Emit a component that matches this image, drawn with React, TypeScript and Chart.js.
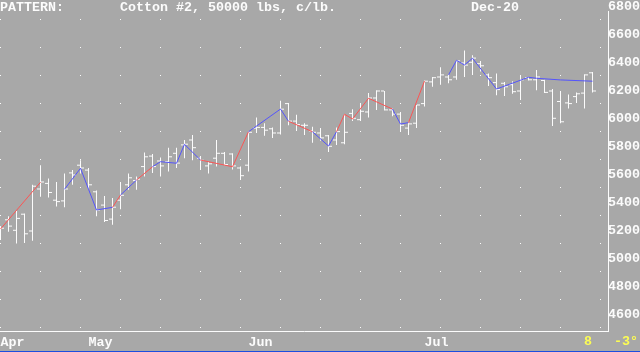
import React, { useEffect, useRef } from "react";
import { Chart, registerables } from "chart.js";

Chart.register(...registerables);

// ---- Data (Cotton #2 Dec-20, daily bars, mid-Apr .. Jul) ----
const openP = [
  5165, 5280, 5205, 5320, 5200, 5500, 5540, 5420, 5415, 5615,
  5670, 5635, 5480, 5385, 5285, 5420, 5530, 5560, 5660, 5735,
  5700, 5695, 5755, 5815, 5850, 5720, 5665, 5720, 5755, 5750,
  5650, 5670, 5935, 5940, 5930, 5900, 6110, 5985, 5955, 5915,
  5900, 5880, 5850, 5830, 6040, 5995, 6050, 6150, 6200, 6065,
  6035, 5935, 5970, 6110, 6265, 6300, 6300, 6300, 6400, 6405,
  6395, 6315, 6260, 6255, 6245, 6200, 6295, 6280, 6275, 6200,
  6125, 6115, 6160, 6185, 6330,
];
const highP = [
  5235, 5305, 5345, 5325, 5530, 5670, 5575, 5550, 5610, 5635,
  5705, 5650, 5490, 5450, 5435, 5550, 5610, 5590, 5760, 5750,
  5725, 5795, 5795, 5850, 5885, 5735, 5695, 5850, 5765, 5755,
  5660, 5910, 6010, 5970, 5940, 6130, 6115, 6030, 5970, 5945,
  5935, 5885, 5940, 6035, 6070, 6110, 6185, 6205, 6200, 6075,
  6050, 5980, 6100, 6275, 6300, 6370, 6320, 6420, 6490, 6455,
  6415, 6325, 6325, 6265, 6270, 6310, 6300, 6350, 6280, 6215,
  6200, 6175, 6190, 6320, 6335,
];
const lowP = [
  5135, 5195, 5110, 5115, 5130, 5445, 5440, 5375, 5370, 5530,
  5610, 5495, 5305, 5265, 5245, 5355, 5495, 5495, 5590, 5615,
  5590, 5625, 5650, 5720, 5705, 5635, 5610, 5660, 5670, 5640,
  5565, 5625, 5900, 5880, 5865, 5890, 5955, 5915, 5885, 5830,
  5845, 5765, 5815, 5820, 5985, 5985, 6010, 6065, 6060, 6020,
  5910, 5885, 5935, 6090, 6230, 6245, 6255, 6280, 6300, 6315,
  6340, 6235, 6170, 6165, 6180, 6135, 6275, 6205, 6185, 5950,
  5970, 6075, 6115, 6075, 6190,
];
const closeP = [
  5220, 5235, 5290, 5180, 5520, 5550, 5475, 5410, 5500, 5600,
  5650, 5530, 5350, 5275, 5370, 5455, 5580, 5570, 5730, 5660,
  5665, 5730, 5685, 5820, 5795, 5705, 5680, 5755, 5675, 5665,
  5595, 5905, 5940, 5920, 5900, 6070, 5985, 5960, 5955, 5905,
  5865, 5805, 5910, 5905, 6005, 6055, 6150, 6200, 6065, 6035,
  5955, 5965, 6100, 6270, 6295, 6315, 6280, 6415, 6385, 6435,
  6380, 6295, 6210, 6230, 6195, 6280, 6280, 6300, 6190, 6005,
  5980, 6110, 6180, 6315, 6200,
];

// Pattern line: vertices (bar index, price); null = break in the line
const patternBar = [
  0, 5, 6, 8, 10, 12, 14, 15, 17, 19, 20, 22, 23, 25, 29, 31, 35, 36, 39,
  41, 42, 43, 44, 46, 49, 50, 51, 53, 54, 56, 57, 58, 59, 62, 66, 67, 70, 74,
];
const patternVal: (number | null)[] = [
  5214, 5548, null, 5498, 5648, 5350, 5369, 5457, 5564, 5659, 5695, 5684, 5819,
  5707, 5659, 5909, 6071, 5984, 5909, 5807, 5909, 6034, 6000, 6148, 6071, 5964,
  5974, 6271, null, 6314, 6419, 6386, 6434, 6214, 6298, 6291, 6279, 6270,
];
// colour of the segment that starts at each vertex: r = red, b = blue
const patternColor = [
  "r", "-", "-", "b", "b", "b", "r", "b", "r", "b", "b", "b", "b", "r", "r",
  "b", "b", "r", "b", "b", "r", "r", "r", "r", "b", "b", "r", "-", "-", "b",
  "b", "b", "b", "b", "b", "b", "b", "-",
];

const monthLabels = ["Apr", "May", "Jun", "Jul"];
const monthBar = [0, 11, 31, 53];
const priceTicks = [4600, 4800, 5000, 5200, 5400, 5600, 5800, 6000, 6200, 6400, 6600, 6800];
const guideLevels = [6714, 6514, 6314, 6114, 5914, 5714, 5514, 5314, 5114, 4914, 4714, 4514];

const headerLeft = "PATTERN:";
const headerTitle = "Cotton #2, 50000 lbs, c/lb.";
const headerContract = "Dec-20";
const footerCount = "8";
const footerAngle = "-3\u00b0";

const MONO = '"Liberation Mono", "DejaVu Sans Mono", monospace';
const FS = 13.33;
const BG = "#a8a8a8";
const WHITE = "#fcfcfc";
const RED = "#fc5454";
const BLUE = "#5454fc";
const YELLOW = "#fcfc54";

export default function App() {
  const ref = useRef<HTMLCanvasElement>(null);

  useEffect(() => {
    const canvas = ref.current;
    if (!canvas) return;
    const idx = highP.map((_, i) => i);
    const tickShift = 0.25;

    const textPlugin = {
      id: "textPlugin",
      afterDraw(chart: any) {
        const c = chart.ctx;
        c.save();
        c.font = `bold ${FS}px ${MONO}`;
        c.textBaseline = "top";
        c.textAlign = "left";
        c.fillStyle = WHITE;
        c.fillText(headerLeft, 0, 1);
        c.fillText(headerTitle, 120, 1);
        c.fillText(headerContract, 471, 1);
        c.fillStyle = YELLOW;
        c.fillText(footerCount, 584, 335);
        c.fillText(footerAngle, 614, 335);
        c.restore();
      },
    };

    const chart = new Chart(canvas, {
      type: "bar",
      data: {
        datasets: [
          {
            type: "line",
            data: patternBar.map((b, k) => ({ x: b, y: patternVal[k] })),
            borderWidth: 1,
            borderColor: BLUE,
            pointRadius: 0,
            spanGaps: false,
            tension: 0,
            segment: {
              borderColor: (ctx: any) => (patternColor[ctx.p0DataIndex] === "r" ? RED : BLUE),
            },
          } as any,
          {
            type: "scatter",
            data: openP.map((v, i) => ({ x: i - tickShift, y: v })),
            pointStyle: "line",
            pointRadius: 1.5,
            pointHoverRadius: 1.5,
            pointBorderColor: WHITE,
            pointBorderWidth: 1,
            borderColor: WHITE,
          } as any,
          {
            type: "scatter",
            data: closeP.map((v, i) => ({ x: i + tickShift, y: v })),
            pointStyle: "line",
            pointRadius: 1.5,
            pointHoverRadius: 1.5,
            pointBorderColor: WHITE,
            pointBorderWidth: 1,
            borderColor: WHITE,
          } as any,
          {
            type: "bar",
            data: idx.map((i) => ({ x: i, y: [lowP[i], highP[i]] })),
            backgroundColor: WHITE,
            borderWidth: 0,
            barThickness: 1,
            inflateAmount: 0,
            grouped: false,
          } as any,
        ],
      },
      options: {
        animation: false,
        responsive: false,
        events: [],
        layout: { autoPadding: false, padding: { top: 11, left: 0, right: 0, bottom: 0 } },
        plugins: { legend: { display: false }, tooltip: { enabled: false }, title: { display: false } },
        scales: {
          x: {
            type: "linear",
            min: -0.0625,
            max: 75.9375,
            offset: false,
            afterBuildTicks: (s: any) => {
              s.ticks = monthBar.map((v) => ({ value: v }));
            },
            afterFit: (s: any) => {
              s.height = 20;
            },
            grid: {
              display: true,
              drawOnChartArea: false,
              drawTicks: true,
              tickLength: 4,
              tickColor: "rgba(0,0,0,0)",
              offset: false,
            },
            border: { display: true, color: WHITE, width: 1 },
            ticks: {
              color: WHITE,
              font: { family: MONO, size: FS, weight: "bold" },
              padding: 0,
              align: "start",
              autoSkip: false,
              maxRotation: 0,
              callback: (v: any) => {
                const k = monthBar.indexOf(Number(v));
                return k >= 0 ? monthLabels[k] : "";
              },
            },
          },
          y: {
            type: "linear",
            position: "right",
            min: 4485.7,
            max: 6771.4,
            afterBuildTicks: (s: any) => {
              s.ticks = priceTicks.map((v) => ({ value: v }));
            },
            afterFit: (s: any) => {
              s.width = 32;
            },
            grid: { display: false, drawTicks: false },
            border: { display: true, color: WHITE, width: 1 },
            ticks: {
              color: WHITE,
              font: { family: MONO, size: FS, weight: "bold" },
              padding: 0,
              autoSkip: false,
              callback: (v: any) => String(v),
            },
          },
          yGuide: {
            type: "linear",
            axis: "y",
            position: "left",
            min: 4485.7,
            max: 6771.4,
            afterBuildTicks: (s: any) => {
              s.ticks = guideLevels.map((v) => ({ value: v }));
            },
            afterFit: (s: any) => {
              s.width = 0;
            },
            grid: { display: true, drawTicks: false, color: WHITE, lineWidth: 1 },
            border: { display: false, dash: [1, 39], dashOffset: 0 },
            ticks: { display: false },
          },
        } as any,
      },
      plugins: [textPlugin],
    } as any);

    return () => chart.destroy();
  }, []);

  return (
    <div style={{ position: "fixed", left: 0, top: 0, width: 640, height: 352, background: BG }}>
      <canvas ref={ref} width={640} height={351} style={{ display: "block", width: 640, height: 351 }} />
      <div style={{ height: 1, background: "#1c4ee0" }} />
    </div>
  );
}
